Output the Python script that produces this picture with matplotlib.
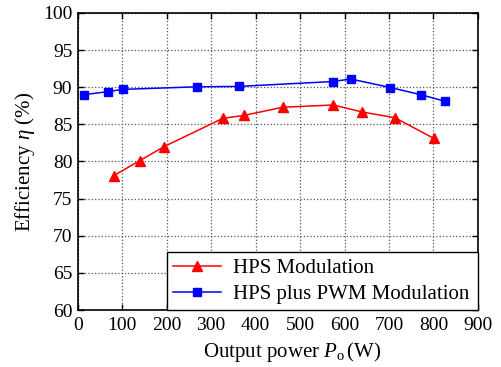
import matplotlib
matplotlib.use("Agg")
import matplotlib.pyplot as plt

# HPS modulation (red triangles)
hps_power = [81, 139, 194, 326, 374, 461, 575, 640, 713, 801]
hps_eff = [78.1, 80.1, 82.0, 85.8, 86.2, 87.3, 87.6, 86.65, 85.9, 83.1]

# HPS plus PWM modulation (blue squares)
pwm_power = [15, 68, 101, 269, 362, 575, 614, 703, 771, 826]
pwm_eff = [89.0, 89.4, 89.7, 90.05, 90.1, 90.76, 91.1, 89.95, 89.0, 88.1]

x_ticks = [0, 100, 200, 300, 400, 500, 600, 700, 800, 900]
y_ticks = [60, 65, 70, 75, 80, 85, 90, 95, 100]

plt.rcParams["font.family"] = ["Liberation Serif", "DejaVu Serif"]
plt.rcParams["mathtext.fontset"] = "custom"
plt.rcParams["mathtext.it"] = "Liberation Serif:italic"
plt.rcParams["mathtext.rm"] = "Liberation Serif"

fig = plt.figure(figsize=(5.02, 3.67), dpi=100)
ax = fig.add_axes([0.155, 0.155, 0.797, 0.81])

ax.plot(hps_power, hps_eff, color="red", marker="^", markersize=7,
        linewidth=1.1, label="HPS Modulation")
ax.plot(pwm_power, pwm_eff, color="blue", marker="s", markersize=5.5,
        linewidth=1.1, label="HPS plus PWM Modulation")

ax.set_xlim(0, 900)
ax.set_ylim(60, 100)
ax.set_xticks(x_ticks)
ax.set_yticks(y_ticks)
ax.tick_params(direction="in", top=True, right=True, labelsize=14,
               length=4, width=1, pad=4)
ax.tick_params(axis="x", pad=5)
ax.grid(True, linestyle=":", color="#555555", linewidth=0.9)
for s in ax.spines.values():
    s.set_linewidth(1.2)

ax.set_xlabel("Output power $P_{\\mathrm{o}}\\,$(W)", fontsize=15)
ax.xaxis.set_label_coords(0.535, -0.1)
ax.set_ylabel("Efficiency $\\eta$ (%)", fontsize=15, labelpad=4)

# legend box spans x = 200..900 along the bottom of the axes
leg = ax.legend(loc="lower left", bbox_to_anchor=(200 / 900, 0, 700 / 900, 0.2),
                mode="expand", fontsize=15, fancybox=False,
                edgecolor="black", framealpha=1, handlelength=2.3,
                handletextpad=0.6, borderaxespad=0, borderpad=0.3,
                labelspacing=0.3)
leg.get_frame().set_linewidth(1.0)

fig.savefig("out.png", dpi=100)
